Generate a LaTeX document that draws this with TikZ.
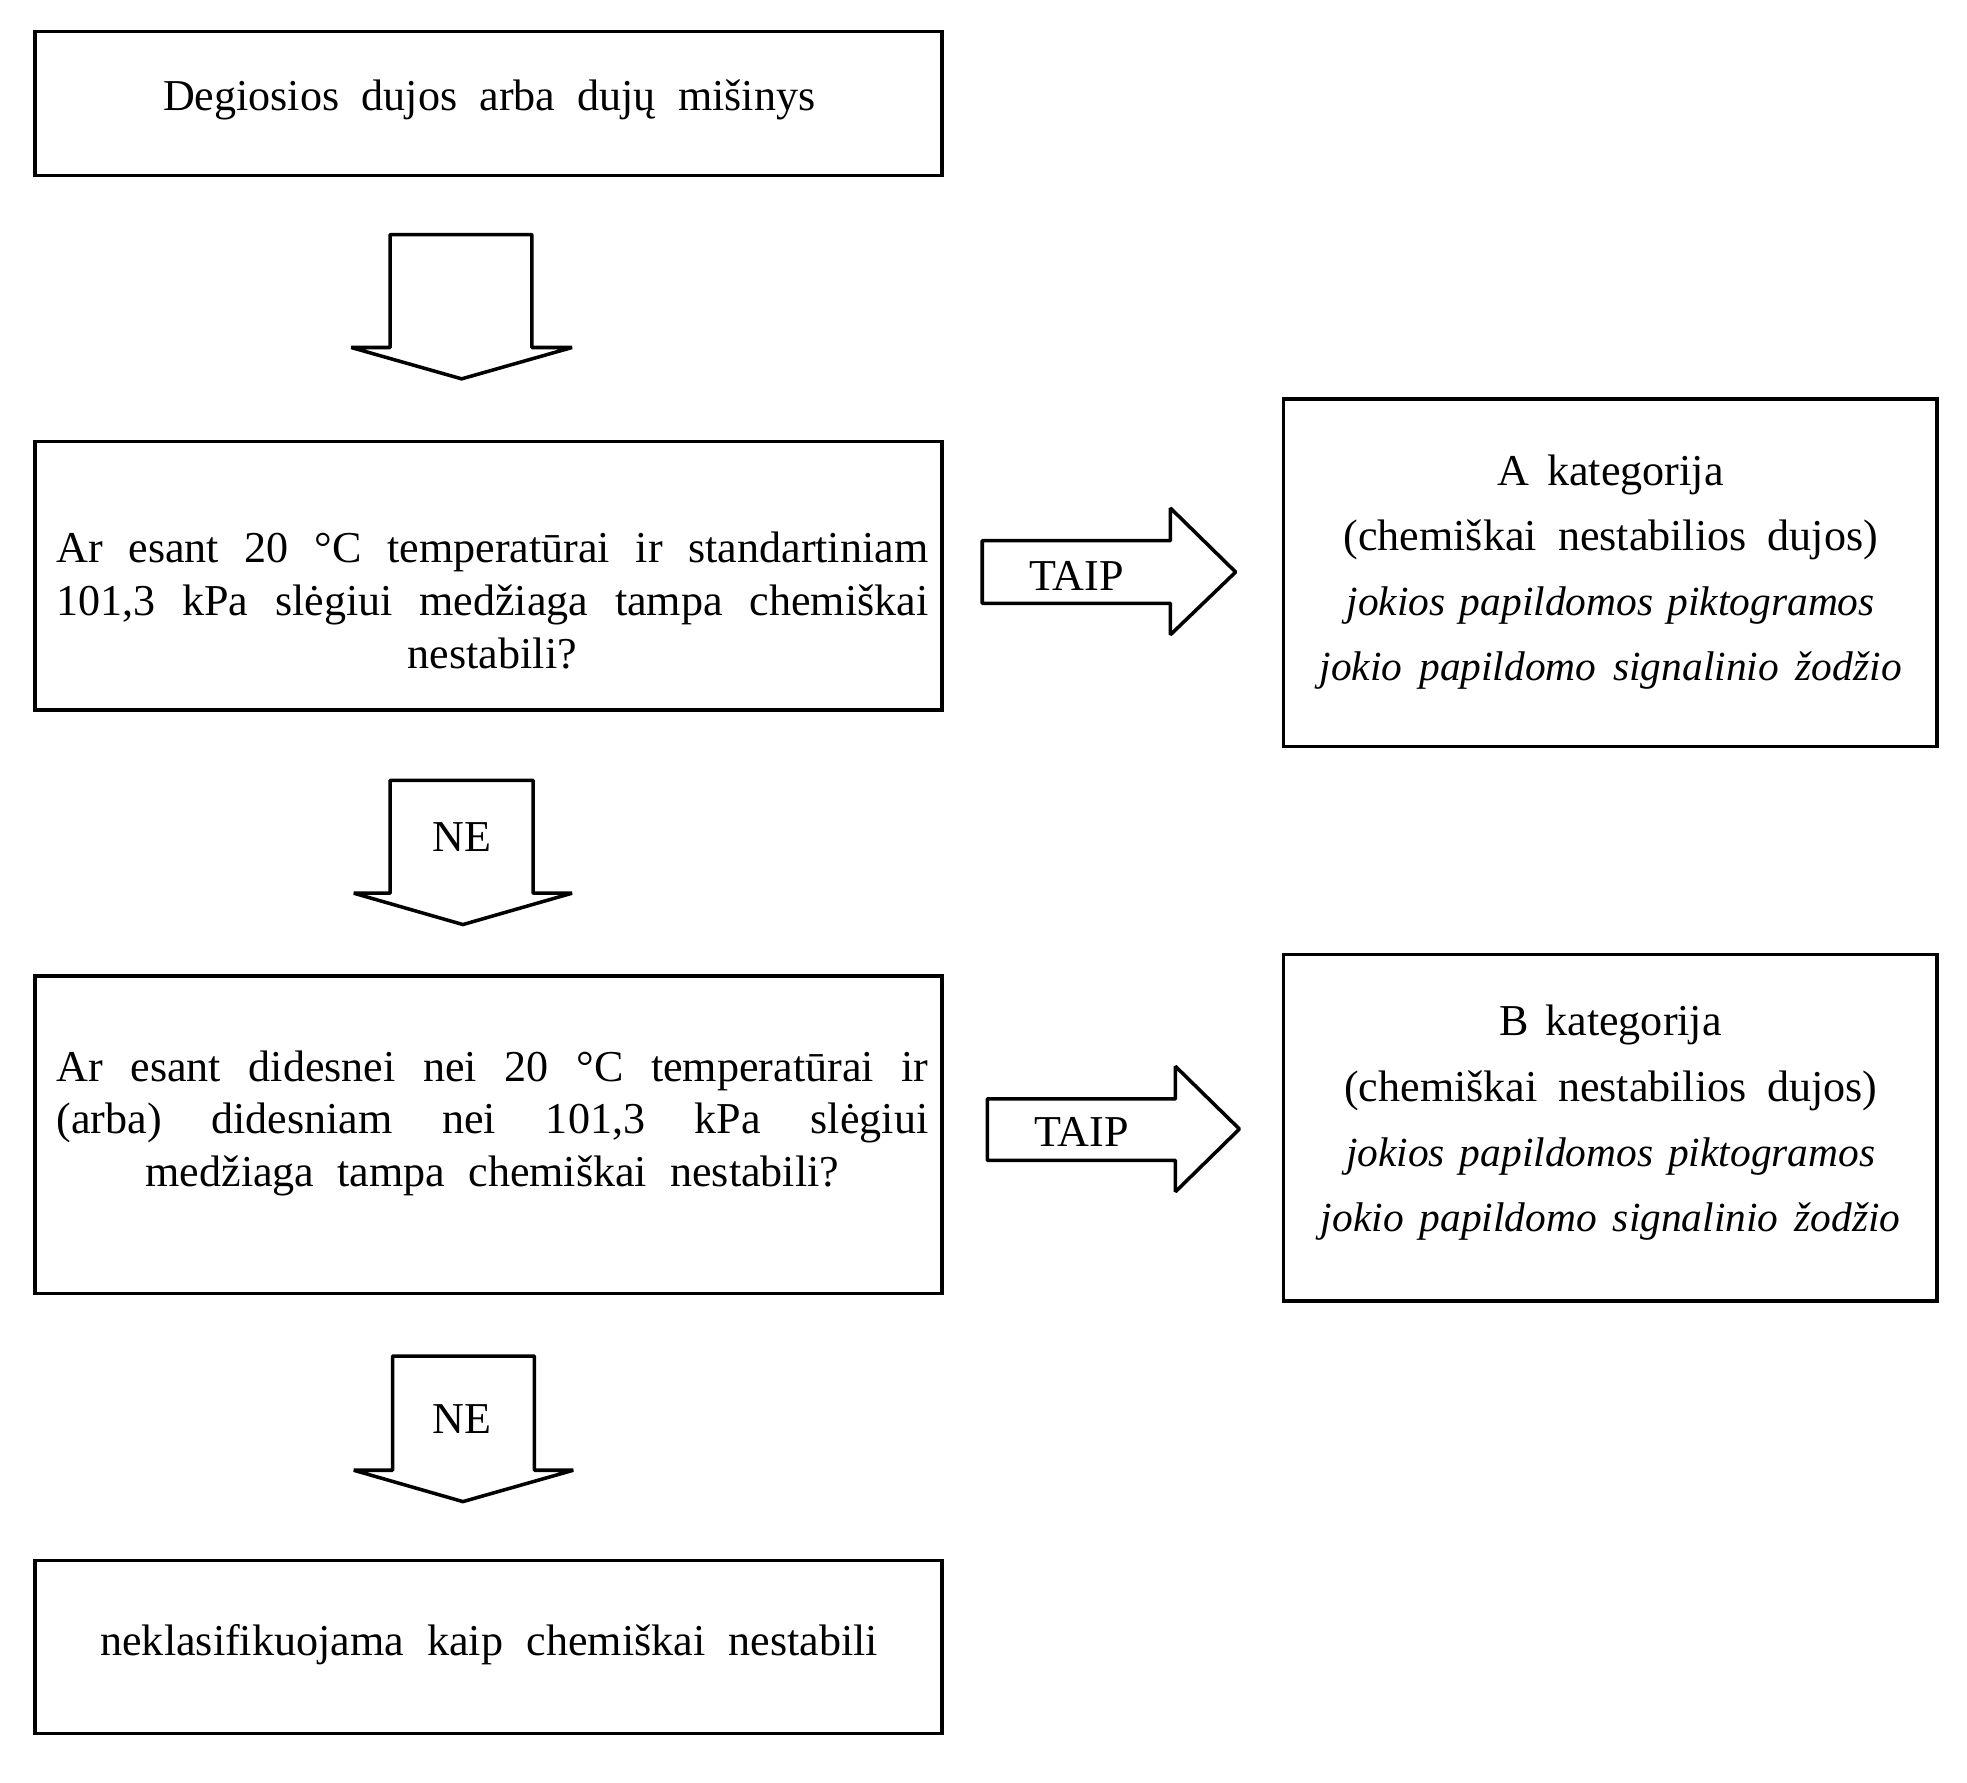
\documentclass[tikz,border=0pt]{standalone}
\usepackage{fontspec}
\setmainfont{Liberation Serif}
\begin{document}
\begin{tikzpicture}[x=0.1mm,y=-0.1mm,
  box/.style={draw, line width=0.8pt, inner sep=0pt},
  txt/.style={inner sep=0pt, align=center, font=\fontsize{10}{12}\selectfont},
  cat/.style={inner sep=0pt, align=center, font=\fontsize{10}{14.8}\selectfont},
  blk/.style={draw, line width=0.8pt, fill=white, line join=bevel},
  lbl/.style={inner sep=0pt, font=\fontsize{10}{12}\selectfont}]
\useasboundingbox (0,0) rectangle (1568,1421);

% boxes
\node[box, minimum width=72.3mm, minimum height=11.5mm] (b1) at (389.5,82.5) {};
\node[box, minimum width=72.3mm, minimum height=21.4mm] (b2) at (389.5,459) {};
\node[box, minimum width=52.1mm, minimum height=27.7mm] (bA) at (1283.5,456.5) {};
\node[box, minimum width=72.3mm, minimum height=25.3mm] (b3) at (389.5,904.5) {};
\node[box, minimum width=52.1mm, minimum height=27.6mm] (bB) at (1283.5,899) {};
\node[box, minimum width=72.3mm, minimum height=13.8mm] (b4) at (389.5,1313) {};

% texts
\node[txt] (t1) at (390,80) {\makebox[52mm][s]{Degiosios dujos arba dujų mišinys}};
\node[txt] (t2) at (392.5,479) {\makebox[69.5mm][s]{Ar esant 20 °C temperatūrai ir standartiniam}\\
  \makebox[69.5mm][s]{101,3 kPa slėgiui medžiaga tampa chemiškai}\\
  nestabili?};
\node[cat] (tA) at (1284,456) {\makebox[18mm][s]{A kategorija}\\
  \makebox[42.6mm][s]{(chemiškai nestabilios dujos)}\\
  \makebox[42.1mm][s]{\fontsize{9.4}{14.8}\selectfont\itshape jokios papildomos piktogramos}\\
  \makebox[46.4mm][s]{\fontsize{9.4}{14.8}\selectfont\itshape jokio papildomo signalinio žodžio}};
\node[txt] (t3) at (392.5,895.5) {\makebox[69.5mm][s]{Ar esant didesnei nei 20 °C temperatūrai ir}\\
  \makebox[69.5mm][s]{(arba) didesniam nei 101,3 kPa slėgiui}\\
  \makebox[55.3mm][s]{medžiaga tampa chemiškai nestabili?}};
\node[cat] (tB) at (1284,895) {\makebox[17.7mm][s]{B kategorija}\\
  \makebox[42.5mm][s]{(chemiškai nestabilios dujos)}\\
  \makebox[42.2mm][s]{\fontsize{9.4}{14.8}\selectfont\itshape jokios papildomos piktogramos}\\
  \makebox[46.2mm][s]{\fontsize{9.4}{14.8}\selectfont\itshape jokio papildomo signalinio žodžio}};
\node[txt] (t4) at (390,1311) {\makebox[62mm][s]{neklasifikuojama kaip chemiškai nestabili}};

% block arrows
\draw[blk] (311,187) -- (424,187) -- (424,277) -- (456,277) -- (368,302) -- (280,277) -- (311,277) -- cycle;
\draw[blk] (311,622) -- (425,622) -- (425,712) -- (456,712) -- (369,737) -- (282,712) -- (311,712) -- cycle;
\draw[blk] (313,1081) -- (426,1081) -- (426,1172) -- (457,1172) -- (369,1197) -- (282,1172) -- (313,1172) -- cycle;
\draw[blk] (783,431) -- (933,431) -- (933,405) -- (985,456) -- (933,506) -- (933,481) -- (783,481) -- cycle;
\draw[blk] (787,876) -- (937,876) -- (937,850) -- (988,900) -- (937,950) -- (937,925) -- (787,925) -- cycle;

% arrow labels
\node[lbl] (ne1) at (368,667) {NE};
\node[lbl] (ne2) at (368,1131) {NE};
\node[lbl] (y1) at (858,459) {TAIP};
\node[lbl] (y2) at (862,902) {TAIP};
\end{tikzpicture}
\end{document}
